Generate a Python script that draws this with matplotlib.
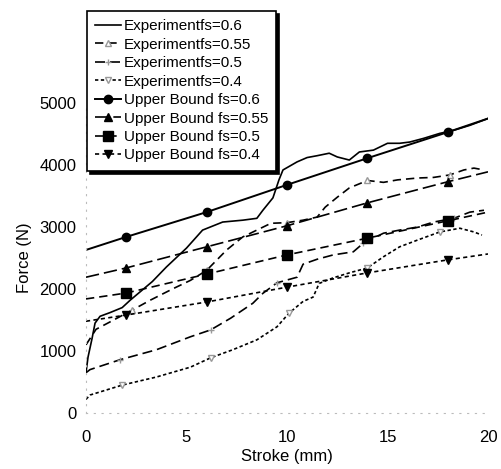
import numpy as np
import matplotlib
matplotlib.use("Agg")
import matplotlib.pyplot as plt

plt.rcParams['font.family'] = ['Liberation Sans', 'DejaVu Sans']

# ---- data ----
# experiment curves (stroke in mm, force in N)
exp60_x = [0.0, 0.1, 0.3, 0.45, 0.7, 1.2, 1.8, 2.2, 3.3, 4.0, 5.0, 5.8, 6.8, 7.8, 8.5, 8.8,
           9.3, 9.6, 9.8, 10.5, 11.0, 11.5, 12.1, 12.5, 13.1, 13.6, 14.3, 15.0, 15.6, 16.1,
           16.8, 17.6, 18.3, 19.1, 20.0]
exp60_y = [650, 900, 1200, 1450, 1560, 1620, 1700, 1820, 2120, 2355, 2660, 2950, 3080, 3110,
           3140, 3270, 3470, 3760, 3920, 4050, 4120, 4150, 4190, 4130, 4080, 4210, 4240, 4350,
           4350, 4370, 4430, 4510, 4560, 4640, 4750]

exp55_x = [0.0, 0.5, 1.2, 2.3, 3.2, 4.3, 5.2, 6.0, 7.0, 7.8, 8.5, 9.2, 10.0, 10.8, 11.5, 11.9,
           12.5, 13.1, 14.0, 14.8, 15.5, 16.5, 17.3, 18.1, 18.8, 19.3, 19.8]
exp55_y = [1100, 1350, 1470, 1660, 1820, 2000, 2140, 2300, 2630, 2840, 2950, 3060, 3070, 3110,
           3160, 3320, 3480, 3630, 3750, 3720, 3760, 3790, 3800, 3840, 3920, 3950, 3920]

exp50_x = [0.0, 0.2, 1.7, 3.5, 5.2, 6.2, 7.2, 8.3, 8.8, 9.5, 10.5, 10.8, 11.5, 12.3, 13.3,
           13.8, 14.8, 15.6, 16.5, 17.3, 18.3, 19.1, 19.8]
exp50_y = [650, 700, 860, 1020, 1230, 1340, 1530, 1770, 1930, 2100, 2190, 2400, 2480, 2550,
           2600, 2740, 2900, 2950, 3000, 3080, 3140, 3240, 3270]

exp40_x = [0.0, 0.2, 1.8, 3.5, 5.2, 6.2, 7.3, 8.5, 9.5, 10.1, 10.8, 11.3, 11.6, 12.3, 13.1,
           14.0, 14.8, 15.6, 16.5, 17.6, 18.6, 19.3, 19.7]
exp40_y = [220, 290, 450, 580, 740, 890, 1020, 1180, 1390, 1610, 1800, 1870, 2090, 2180, 2260,
           2340, 2520, 2680, 2790, 2920, 2980, 2920, 2870]

# upper bound lines
ub_x = [0, 2, 6, 10, 14, 18, 20]
ub60_y = [2630, 2840, 3240, 3680, 4110, 4530, 4750]
ub55_y = [2190, 2340, 2680, 3020, 3390, 3730, 3890]
ub50_y = [1840, 1935, 2240, 2550, 2820, 3100, 3240]
ub40_y = [1480, 1580, 1790, 2030, 2260, 2470, 2565]

exp_marks = [2, 6, 10, 14, 18]

fig = plt.figure(figsize=(5.01, 4.69), dpi=100)
ax = fig.add_axes([86/501, 1-413/469, 402/501, 310/469])

def near(xs):
    xs = np.asarray(xs)
    return [int(np.argmin(abs(xs - v))) for v in exp_marks]

LW = 1.2
ax.plot(exp60_x, exp60_y, '-', color='black', lw=LW, label='Experimentfs=0.6')
ax.plot(exp55_x, exp55_y, color='black', lw=LW, dashes=(5, 3), marker='^', mfc='white',
        mec='#999999', ms=4, markevery=near(exp55_x), label='Experimentfs=0.55')
ax.plot(exp50_x, exp50_y, color='black', lw=LW, dashes=(6, 3), marker='+',
        mec='#999999', ms=4, markevery=near(exp50_x), label='Experimentfs=0.5')
ax.plot(exp40_x, exp40_y, color='black', lw=LW, dashes=(2, 1.5), marker='v', mfc='white',
        mec='#999999', ms=4, markevery=near(exp40_x), label='Experimentfs=0.4')

ax.plot(ub_x, ub60_y, '-', color='black', lw=1.4, marker='o', ms=6,
        markevery=[1, 2, 3, 4, 5], label='Upper Bound fs=0.6')
ax.plot(ub_x, ub55_y, color='black', lw=LW, dashes=(8, 3), marker='^', ms=6,
        markevery=[1, 2, 3, 4, 5], label='Upper Bound fs=0.55')
ax.plot(ub_x, ub50_y, color='black', lw=LW, dashes=(5, 3), marker='s', ms=7,
        markevery=[1, 2, 3, 4, 5], label='Upper Bound fs=0.5')
ax.plot(ub_x, ub40_y, color='black', lw=LW, dashes=(2.5, 2), marker='v', ms=6,
        markevery=[1, 2, 3, 4, 5], label='Upper Bound fs=0.4')

ax.set_xlim(0, 20)
ax.set_ylim(0, 5000)
ax.set_xticks([0, 5, 10, 15, 20])
ax.set_yticks([0, 1000, 2000, 3000, 4000, 5000])
ax.tick_params(length=0, labelsize=12)
ax.tick_params(axis='y', pad=7)
ax.tick_params(axis='x', pad=12)
for s in ['top', 'right']:
    ax.spines[s].set_visible(False)
for s in ['left', 'bottom']:
    ax.spines[s].set_color('#bbbbbb')
    ax.spines[s].set_linestyle((0, (1, 6)))
    ax.spines[s].set_linewidth(0.8)

ax.set_xlabel('Stroke (mm)', fontsize=12, labelpad=3)
ax.set_ylabel('Force (N)', fontsize=12, labelpad=5)

leg = ax.legend(loc='upper left', bbox_to_anchor=(1/402, (413-11)/310), fontsize=11,
                frameon=True, fancybox=False, framealpha=1, edgecolor='black',
                borderpad=0.55, labelspacing=0.29, handlelength=1.7, handletextpad=0.15,
                borderaxespad=0,
                shadow={'color': 'black', 'alpha': 1, 'ox': 2, 'oy': -2})
leg.get_frame().set_linewidth(1.2)

fig.savefig('out.png', dpi=100)
